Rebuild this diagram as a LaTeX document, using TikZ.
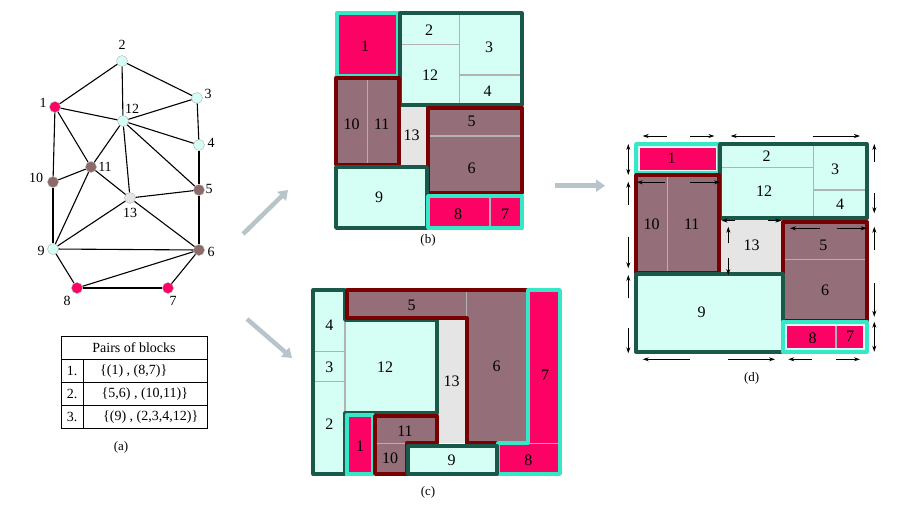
\documentclass[tikz,border=0pt]{standalone}
\usepackage{fontspec}
\setmainfont{Liberation Serif}
\usepackage{tikz}
\usetikzlibrary{positioning,calc}
\usetikzlibrary{arrows.meta}

\definecolor{blkpink}{RGB}{252,2,101}
\definecolor{blkmauve}{RGB}{148,110,121}
\definecolor{blkcyan}{RGB}{213,255,245}
\definecolor{blkgray}{RGB}{229,229,229}
\definecolor{rimcyan}{RGB}{52,232,200}
\definecolor{rimgreen}{RGB}{26,88,74}
\definecolor{rimred}{RGB}{120,0,0}
\definecolor{sepgray}{RGB}{178,178,178}
\definecolor{arrowgray}{RGB}{183,196,201}
\definecolor{vtxbrown}{RGB}{140,106,106}

\begin{document}
\begin{tikzpicture}[x=1pt,y=-1pt,
    vtx/.style={circle,inner sep=0pt,minimum size=11pt,draw=gray!60,line width=0.4pt},
    edge/.style={line width=1.1pt},
    lbl/.style={font=\fontsize{14}{16}\selectfont,inner sep=0pt},
    blk/.style={font=\fontsize{16}{18}\selectfont,inner sep=0pt},
    captext/.style={font=\fontsize{13}{15}\selectfont,inner sep=0pt},
    sep/.style={draw=sepgray,line width=1.4pt},
    rim/.style={line width=3.8pt,line join=round},
    bigarrow/.style={draw=arrowgray,line width=4.5pt,-{Triangle[length=9pt,width=12pt]}},
    dim/.style={line width=0.8pt,-{Stealth[length=6pt,width=4pt]}}]
\useasboundingbox (0,0) rectangle (907,506);

% (a) the graph
\node[vtx,fill=blkpink] (v1) at (55,107) {};
\node[vtx,fill=blkcyan] (v2) at (122,61) {};
\node[vtx,fill=blkcyan] (v3) at (197,98) {};
\node[vtx,fill=blkcyan] (v4) at (199,145) {};
\node[vtx,fill=vtxbrown] (v5) at (199,190) {};
\node[vtx,fill=vtxbrown] (v6) at (199,250) {};
\node[vtx,fill=blkpink] (v7) at (168,288) {};
\node[vtx,fill=blkpink] (v8) at (77,288) {};
\node[vtx,fill=blkcyan] (v9) at (53,249) {};
\node[vtx,fill=vtxbrown] (v10) at (53,182) {};
\node[vtx,fill=vtxbrown] (v11) at (91,167) {};
\node[vtx,fill=blkcyan] (v12) at (123,121) {};
\node[vtx,fill=blkgray] (v13) at (130,198) {};
\foreach \a/\b in {1/2,2/3,2/12,1/12,3/12,3/4,12/4,12/11,12/13,12/5,1/10,1/11,10/11,
                   11/9,11/13,4/5,13/5,10/9,13/9,13/6,5/6,9/6,9/8,8/6,8/7,7/6}
    \draw[edge] (v\a) -- (v\b);
\node[lbl] (n1) at (43,103) {1};
\node[lbl] (n2) at (122,45) {2};
\node[lbl] (n3) at (208,94) {3};
\node[lbl] (n4) at (211,143) {4};
\node[lbl] (n5) at (209,189) {5};
\node[lbl] (n6) at (211,252) {6};
\node[lbl] (n7) at (173,301) {7};
\node[lbl] (n8) at (67,301) {8};
\node[lbl] (n9) at (41,251) {9};
\node[lbl] (n10) at (36,178) {10};
\node[lbl] (n11) at (105,167) {11};
\node[lbl] (n12) at (132,109) {12};
\node[lbl] (n13) at (130,213) {13};

% table of pairs
\draw[line width=0.8pt] (61,336) rectangle (207,428);
\draw[line width=0.8pt] (61,359) -- (207,359) (61,382.7) -- (207,382.7)
    (61,405.7) -- (207,405.7) (83.3,359) -- (83.3,428);
\node[lbl] (thead) at (134,347.5) {Pairs of blocks};
\node[lbl] (r1) at (72,371) {1.};
\node[lbl] (r2) at (72,394) {2.};
\node[lbl] (r3) at (72,417) {3.};
\node[lbl,anchor=west] (p1) at (100,371) {\{(1) , (8,7)\}};
\node[lbl,anchor=west] (p2) at (101.5,394) {\{5,6) , (10,11)\}};
\node[lbl,anchor=west] (p3) at (103,417) {\{(9) , (2,3,4,12)\}};
\node[captext] (capa) at (121,447) {(a)};

% (b)
\fill[blkpink] (336.7,13.3) rectangle (398.3,76);
\fill[blkcyan] (400,13.3) rectangle (521.7,105);
\fill[blkmauve] (336,77.7) rectangle (399,165);
\fill[blkgray] (399,105) rectangle (428,165);
\fill[blkmauve] (428,107.7) rectangle (521.7,193);
\fill[blkcyan] (336,167) rectangle (427,228);
\fill[blkpink] (428,196) rectangle (521.7,228);
\draw[sep] (459.3,13.3) -- (459.3,105) (400,44.3) -- (459.3,44.3) (459.3,75) -- (521.7,75);
\draw[sep] (367.7,77.7) -- (367.7,165);
\draw[sep] (428,136) -- (521.7,136);
\draw[sep] (490,196) -- (490,228);
\draw[rim,rimcyan] (336.7,13.3) rectangle (398.3,76);
\draw[rim,rimgreen] (400,13.3) rectangle (521.7,105);
\draw[rim,rimred] (336,77.7) rectangle (399,165);
\draw[rim,rimred] (428,107.7) rectangle (521.7,193);
\draw[rim,rimgreen] (336,167) rectangle (427,228);
\draw[rim,rimcyan] (428,196) rectangle (521.7,228);
\node[blk] (b1) at (365,46.7) {1};
\node[blk] (b2) at (429,30) {2};
\node[blk] (b3) at (489,47.7) {3};
\node[blk] (b12) at (430,75) {12};
\node[blk] (b4) at (487.7,91) {4};
\node[blk] (b10) at (351.7,124) {10};
\node[blk] (b11) at (381.7,124) {11};
\node[blk] (b13) at (411.7,135.7) {13};
\node[blk] (b5) at (471.7,121.7) {5};
\node[blk] (b6) at (471.7,168) {6};
\node[blk] (b9) at (379,197.7) {9};
\node[blk] (b8) at (458,214) {8};
\node[blk] (b7) at (505,214) {7};
\node[captext] (capb) at (428,240) {(b)};

% (c)
\fill[blkcyan] (313.3,290) -- (345,290) -- (345,320) -- (436.7,320) -- (436.7,413.3)
    -- (345,413.3) -- (345,474) -- (313.3,474) -- cycle;
\fill[blkmauve] (346.7,290) -- (528.3,290) -- (528.3,443.3) -- (466.7,443.3)
    -- (466.7,318.3) -- (346.7,318.3) -- cycle;
\fill[blkgray] (436.7,320) rectangle (466.7,443.3);
\fill[blkpink] (528.3,290) -- (560,290) -- (560,474) -- (498.3,474) -- (498.3,443.3)
    -- (528.3,443.3) -- cycle;
\fill[blkpink] (346.7,415) rectangle (372.7,474);
\fill[blkmauve] (375,416) -- (436.7,416) -- (436.7,443.3) -- (406.7,443.3)
    -- (406.7,474) -- (375,474) -- cycle;
\fill[blkcyan] (408.3,445.7) rectangle (496.7,474);
\draw[sep] (313.3,351.7) -- (345,351.7) (313.3,381.7) -- (345,381.7) (345,320) -- (345,413.3);
\draw[sep] (466.7,290) -- (466.7,318.3);
\draw[sep] (528.3,443.3) -- (560,443.3);
\draw[sep] (375,443.3) -- (406.7,443.3);
\draw[rim,rimgreen] (313.3,290) -- (345,290) -- (345,320) -- (436.7,320) -- (436.7,413.3)
    -- (345,413.3) -- (345,474) -- (313.3,474) -- cycle;
\draw[rim,rimred] (346.7,290) -- (528.3,290) -- (528.3,443.3) -- (466.7,443.3)
    -- (466.7,318.3) -- (346.7,318.3) -- cycle;
\draw[rim,rimcyan] (528.3,290) -- (560,290) -- (560,474) -- (498.3,474) -- (498.3,443.3)
    -- (528.3,443.3) -- cycle;
\draw[rim,rimcyan] (346.7,415) rectangle (372.7,474);
\draw[rim,rimred] (375,416) -- (436.7,416) -- (436.7,443.3) -- (406.7,443.3)
    -- (406.7,474) -- (375,474) -- cycle;
\draw[rim,rimgreen] (408.3,445.7) rectangle (496.7,474);
\node[blk] (c4) at (329.3,325) {4};
\node[blk] (c3) at (329.3,367.3) {3};
\node[blk] (c2) at (329.3,424) {2};
\node[blk] (c12) at (385,366.7) {12};
\node[blk] (c5) at (411.7,305) {5};
\node[blk] (c13) at (451.7,381.7) {13};
\node[blk] (c6) at (496.7,366.7) {6};
\node[blk] (c7) at (545,375) {7};
\node[blk] (c11) at (405,431.7) {11};
\node[blk] (c1) at (360,446.7) {1};
\node[blk] (c10) at (390,458.3) {10};
\node[blk] (c9) at (451.7,460) {9};
\node[blk] (c8) at (528.3,460) {8};
\node[captext] (capc) at (428,492) {(c)};

% (d)
\fill[blkcyan] (636,144) rectangle (719.3,173.3);
\fill[blkcyan] (720,144) rectangle (866.7,218.3);
\fill[blkmauve] (636,175) rectangle (719.3,273.3);
\fill[blkgray] (720,219.3) rectangle (782.7,274);
\fill[blkmauve] (783.3,221.7) rectangle (866.7,320.7);
\fill[blkcyan] (636,274) rectangle (782.7,351.7);
\fill[blkcyan] (782.7,321.7) rectangle (866.7,351.7);
\fill[blkpink] (639.5,147.5) rectangle (715.8,169.8);
\fill[blkpink] (787,326) rectangle (863,348);
\draw[sep] (813.3,144) -- (813.3,218.3) (720,167.3) -- (813.3,167.3) (813.3,190) -- (866.7,190);
\draw[sep] (667.3,175) -- (667.3,273.3);
\draw[sep] (783.3,259.3) -- (866.7,259.3);
\draw[sep] (836,326) -- (836,348);
\draw[rim,rimcyan] (636,144) rectangle (719.3,173.3);
\draw[rim,rimgreen] (720,144) rectangle (866.7,218.3);
\draw[rim,rimred] (636,175) rectangle (719.3,273.3);
\draw[rim,rimred] (783.3,221.7) rectangle (866.7,320.7);
\draw[rim,rimgreen] (636,274) rectangle (782.7,351.7);
\draw[rim,rimcyan] (782.7,321.7) rectangle (866.7,351.7);
\node[blk] (d1) at (671.7,158.3) {1};
\node[blk] (d2) at (766.7,156.7) {2};
\node[blk] (d3) at (835,169) {3};
\node[blk] (d12) at (764,191) {12};
\node[blk] (d4) at (840,204) {4};
\node[blk] (d10) at (651.7,224.3) {10};
\node[blk] (d11) at (691.7,224.3) {11};
\node[blk] (d13) at (751.7,245) {13};
\node[blk] (d5) at (823.3,245) {5};
\node[blk] (d6) at (825,290.7) {6};
\node[blk] (d9) at (701.7,312.7) {9};
\node[blk] (d8) at (812.7,338.3) {8};
\node[blk] (d7) at (850,336.7) {7};
\node[captext] (capd) at (751.7,378.3) {(d)};

% stretching arrows round (d)
\draw[dim] (666.7,136) -- (642.7,136);
\draw[dim] (690,136) -- (714.3,136);
\draw[dim] (775,136) -- (730.7,136);
\draw[dim] (812.7,136) -- (860,136);
\draw[dim] (690,359.3) -- (642.7,359.3);
\draw[dim] (728.3,359.3) -- (775,359.3);
\draw[dim] (811.7,359.3) -- (788.3,359.3);
\draw[dim] (836,359.3) -- (860,359.3);
\draw[dim,{Stealth[length=6pt,width=4pt]}-{Stealth[length=6pt,width=4pt]}] (628.3,144) -- (628.3,175);
\draw[dim] (628.3,205) -- (628.3,181.7);
\draw[dim] (628.3,236.7) -- (628.3,268.3);
\draw[dim] (628.3,298.3) -- (628.3,275);
\draw[dim] (628.3,328.3) -- (628.3,353.3);
\draw[dim] (874.3,161.7) -- (874.3,144);
\draw[dim] (874.3,193.3) -- (874.3,213.3);
\draw[dim] (874.3,250) -- (874.3,226.7);
\draw[dim] (874.3,283.3) -- (874.3,316.7);
\draw[dim,{Stealth[length=6pt,width=4pt]}-{Stealth[length=6pt,width=4pt]}] (874.3,321.7) -- (874.3,351.7);
\draw[dim] (665,182.3) -- (636.7,182.3);
\draw[dim] (690,182.3) -- (720,182.3);
\draw[dim] (735,220.5) -- (721.5,220.5);
\draw[dim] (768,220.5) -- (781.5,220.5);
\draw[dim] (728.3,243.3) -- (728.3,226.7);
\draw[dim] (728.3,258.3) -- (728.3,275);
\draw[dim] (820,228.3) -- (790,228.3);
\draw[dim] (836.7,228.3) -- (866.7,228.3);

% grey arrows between the pictures
\coordinate (ga) at (243,234);
\coordinate (gb) at (288,190);
\coordinate (gc) at (247,319);
\coordinate (gd) at (292,358);
\coordinate (ge) at (555,185.7);
\coordinate (gf) at (605,185.7);
\draw[bigarrow] (ga) -- (gb);
\draw[bigarrow] (gc) -- (gd);
\draw[bigarrow] (ge) -- (gf);
\end{tikzpicture}
\end{document}
